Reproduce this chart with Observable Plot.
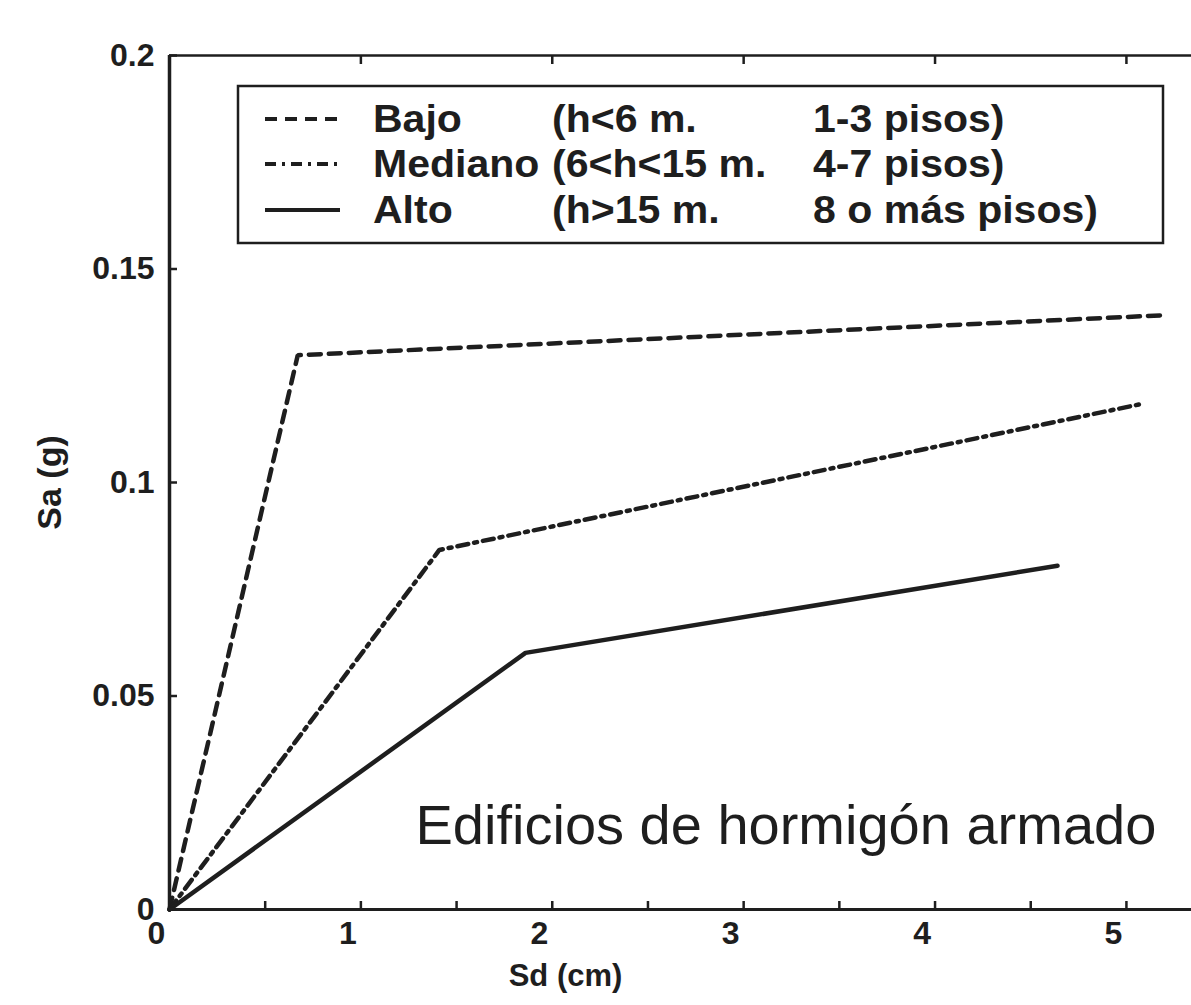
<!DOCTYPE html>
<html>
<head>
<meta charset="utf-8">
<script src="https://cdn.jsdelivr.net/npm/d3@7"></script>
<script src="https://cdn.jsdelivr.net/npm/@observablehq/plot@0.6"></script>
<style>
  html, body { margin: 0; padding: 0; background: #fff; overflow: hidden; }
  #chart { position: relative; width: 1191px; height: 1005px; }
  #chart svg { position: absolute; left: 0; top: 0; }
</style>
</head>
<body>
<div id="chart"></div>
<script>
// Capacity curves: spectral displacement Sd (cm) vs spectral acceleration Sa (g)
const seriesNames = ["Bajo", "Mediano", "Alto"];
const bajoSd = [0, 0.67, 5.21];
const bajoSa = [0, 0.1298, 0.1392];
const medianoSd = [0, 1.41, 5.08];
const medianoSa = [0, 0.0842, 0.1184];
const altoSd = [0, 1.86, 4.64];
const altoSa = [0, 0.0601, 0.0805];

const xTicks = [0, 1, 2, 3, 4, 5];
const xMinorTicks = [0.5, 1.5, 2.5, 3.5, 4.5];
const yTicks = [0, 0.05, 0.1, 0.15, 0.2];

const legendName = ["Bajo", "Mediano", "Alto"];
const legendHeight = ["(h<6 m.", "(6<h<15 m.", "(h>15 m."];
const legendFloors = ["1-3 pisos)", "4-7 pisos)", "8 o más pisos)"];

const xLabel = "Sd (cm)";
const yLabel = "Sa (g)";
const note = "Edificios de hormigón armado";

// long table for the line marks
const curves = [[bajoSd, bajoSa], [medianoSd, medianoSa], [altoSd, altoSa]];
const rows = [];
curves.forEach(([xs, ys], k) => xs.forEach((x, i) => rows.push({serie: seriesNames[k], sd: x, sa: ys[i]})));

const dashes = {Bajo: "12,8", Mediano: "11,6,3,6", Alto: null};
const font = "'Liberation Sans', Arial, Helvetica, sans-serif";
const ink = "#1e1e1e";

const plot = Plot.plot({
  width: 1191,
  height: 1005,
  marginLeft: 169,
  marginRight: 0,
  marginTop: 55,
  marginBottom: 96,
  style: {fontFamily: font, background: "#fff", color: ink, overflow: "visible"},
  x: {domain: [0, 5.34]},
  y: {domain: [0, 0.2]},
  marks: [
    // box edges
    Plot.ruleY([0.2], {stroke: ink, strokeWidth: 2.5}),
    Plot.ruleY([0], {stroke: ink, strokeWidth: 3}),
    Plot.ruleX([0], {stroke: ink, strokeWidth: 3.5}),
    // inward ticks
    Plot.axisX([...xTicks, ...xMinorTicks], {anchor: "bottom", tickSize: -8, strokeWidth: 2.5, tickFormat: () => "", label: null}),
    Plot.axisX(xTicks, {anchor: "top", tickSize: -8, strokeWidth: 2.5, tickFormat: () => "", label: null}),
    Plot.axisY(yTicks, {anchor: "left", tickSize: -8, strokeWidth: 2.5, tickFormat: () => "", label: null}),
    // tick labels
    Plot.axisX(xTicks, {anchor: "bottom", tickSize: 0, tickPadding: 12, dx: -13, fontSize: 32, fontWeight: "bold", tickFormat: d => String(d), label: null}),
    Plot.axisY(yTicks, {anchor: "left", tickSize: 0, tickPadding: 15, fontSize: 32, fontWeight: "bold", tickFormat: d => String(d), label: null}),
    // curves
    ...seriesNames.map(s => Plot.line(rows.filter(r => r.serie === s), {
      x: "sd", y: "sa", stroke: ink, strokeWidth: 4.5,
      strokeDasharray: dashes[s] || undefined, strokeLinejoin: "miter"
    })),
    // axis titles and note
    Plot.text([yLabel], {text: d => d, frameAnchor: "left", textAnchor: "middle", rotate: -90, dx: -119, fontSize: 34, fontWeight: "bold", fill: ink}),
    Plot.text([xLabel], {text: d => d, frameAnchor: "bottom", textAnchor: "middle", dx: -115, dy: 76, fontSize: 31, fontWeight: "bold", fill: ink}),
    Plot.text([note], {text: d => d, frameAnchor: "bottom-left", textAnchor: "start", lineAnchor: "bottom", dx: 246, dy: -66, fontSize: 56, fill: ink})
  ]
});

const chart = document.getElementById("chart");
chart.appendChild(plot);

// legend box drawn over the plot area
const legend = d3.select(chart).append("svg")
  .attr("width", 1191).attr("height", 1005)
  .style("font-family", font);

legend.append("rect")
  .attr("x", 238).attr("y", 86).attr("width", 925).attr("height", 157)
  .attr("fill", "#fff").attr("stroke", ink).attr("stroke-width", 2.5);

const rowY = [119, 164, 210];
const widen = 1.08; // the legend lettering is set a little wider than the plain face

function legendText(g, x, y, str) {
  const t = g.append("text")
    .attr("transform", `translate(${x},${y}) scale(${widen},1)`)
    .attr("dy", "0.35em")
    .text(str);
  return t.node().getComputedTextLength() * widen;
}

legendName.forEach((name, i) => {
  const y = rowY[i];
  legend.append("line")
    .attr("x1", 265).attr("x2", 340).attr("y1", y).attr("y2", y)
    .attr("stroke", ink).attr("stroke-width", 4)
    .attr("stroke-dasharray", dashes[name] || null);
  const g = legend.append("g").attr("font-size", 38).attr("font-weight", "bold").attr("fill", ink);
  const w = legendText(g, 373, y, name);
  legendText(g, Math.max(552, 373 + w + 8), y, legendHeight[i]);
  legendText(g, 813, y, legendFloors[i]);
});
</script>
</body>
</html>
